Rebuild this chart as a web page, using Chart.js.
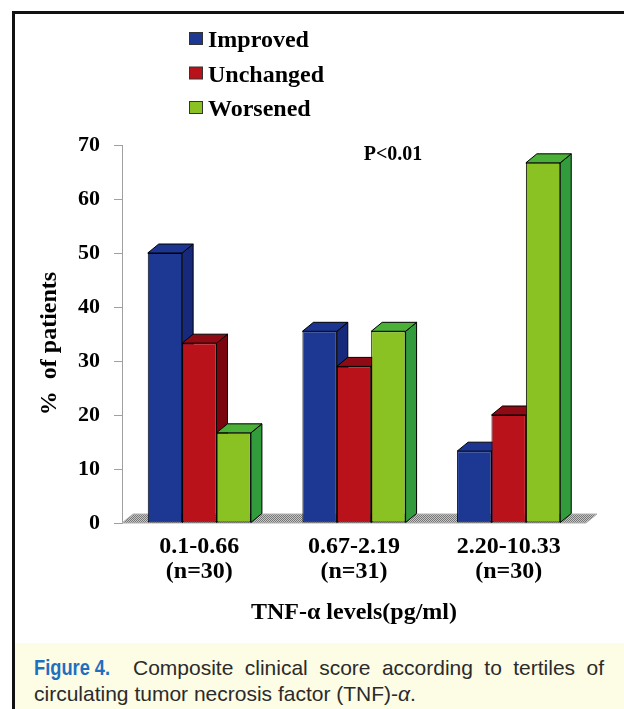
<!DOCTYPE html>
<html>
<head>
<meta charset="utf-8">
<script src="https://cdn.jsdelivr.net/npm/chart.js@4.4.1/dist/chart.umd.min.js"></script>
<style>
  html, body { margin: 0; padding: 0; background: #fff; }
  #wrap { position: relative; width: 624px; height: 709px; overflow: hidden; background: #fff; }
  #c { position: absolute; left: 0; top: 0; }
  #frame { position: absolute; left: 12px; top: 11px; width: 630px; height: 720px;
           border-left: 3px solid #111; border-top: 3px solid #111; pointer-events: none; }
  #cap { position: absolute; left: 15px; top: 643px; width: 609px; height: 66px; background: #fdfce5;
         font-family: "Liberation Sans", Arial, sans-serif; color: #2b2b2b; font-size: 21px; }
  .l1 { position: absolute; left: 19px; top: 12px; width: 570px; height: 26px; display: flex; line-height: 26px; white-space: nowrap; }
  .fig { width: 99px; flex: none; color: #1e6fbf; font-weight: bold; font-size: 22px; }
  .fig span { display: inline-block; transform: scaleX(0.83); transform-origin: 0 50%; }
  .t1 { flex: 1; text-align: justify; text-align-last: justify; }
  .l2 { position: absolute; left: 19px; top: 38px; line-height: 26px; white-space: nowrap; }
</style>
</head>
<body>
<div id="wrap">
  <canvas id="c" width="624" height="643"></canvas>
  <div id="cap">
    <div class="l1"><div class="fig"><span>Figure 4.</span></div><div class="t1">Composite clinical score according to tertiles of</div></div>
    <div class="l2">circulating tumor necrosis factor (TNF)-<i>α</i>.</div>
  </div>
  <div id="frame"></div>
</div>
<script>
// Tertiles of circulating TNF-α and the share of patients in each outcome group
const categories = [['0.1-0.66', '(n=30)'], ['0.67-2.19', '(n=31)'], ['2.20-10.33', '(n=30)']];
const seriesNames = ['Improved', 'Unchanged', 'Worsened'];
const improved = [50, 35.5, 13.3];
const unchanged = [33.3, 29, 20];
const worsened = [16.7, 35.5, 66.7];
const yMin = 0, yMax = 70, yStep = 10;
const axisTitleY = '%  of patients';
const axisTitleX = 'TNF-α levels(pg/ml)';
const pValueNote = 'P<0.01';

// face colours per series: front, top, side
const faces = [
  { front: '#1c3892', top: '#1b3590', side: '#16297a' },
  { front: '#b9121b', top: '#8e0a14', side: '#7b050f' },
  { front: '#8ac224', top: '#4bb037', side: '#329b3c' }
];
const DX = 11, DY = -9;               // oblique depth offset of the boxes
const SERIF = '"Liberation Serif", "Times New Roman", serif';

function floorPattern(ctx) {
  const p = document.createElement('canvas');
  p.width = 2; p.height = 2;
  const g = p.getContext('2d');
  g.fillStyle = '#c6c6c6'; g.fillRect(0, 0, 2, 2);
  g.fillStyle = '#767676'; g.fillRect(0, 0, 1, 1); g.fillRect(1, 1, 1, 1);
  return ctx.createPattern(p, 'repeat');
}

function poly(ctx, pts, fill) {
  ctx.beginPath();
  ctx.moveTo(pts[0][0], pts[0][1]);
  for (let k = 1; k < pts.length; k++) ctx.lineTo(pts[k][0], pts[k][1]);
  ctx.closePath();
  ctx.fillStyle = fill;
  ctx.fill();
  ctx.stroke();
}

const boxes3d = {
  id: 'boxes3d',
  beforeDatasetsDraw(chart) {
    const ctx = chart.ctx, area = chart.chartArea;
    const base = chart.scales.y.getPixelForValue(0);
    ctx.save();
    // hatched floor
    ctx.strokeStyle = '#b0b0b0';
    ctx.lineWidth = 1;
    poly(ctx, [[area.left, base], [area.right, base], [area.right + DX, base + DY], [area.left + DX, base + DY]], floorPattern(ctx));
    // sides and tops of each box, left to right
    ctx.strokeStyle = '#000';
    ctx.lineWidth = 1;
    const n = chart.data.labels.length;
    for (let j = 0; j < n; j++) {
      chart.data.datasets.forEach((ds, i) => {
        const el = chart.getDatasetMeta(i).data[j];
        const x0 = el.x - el.width / 2, x1 = el.x + el.width / 2;
        const yT = el.y, yB = el.base;
        poly(ctx, [[x1, yT], [x1 + DX, yT + DY], [x1 + DX, yB + DY], [x1, yB]], faces[i].side);
        poly(ctx, [[x0, yT], [x1, yT], [x1 + DX, yT + DY], [x0 + DX, yT + DY]], faces[i].top);
      });
    }
    ctx.restore();
  },
  afterDraw(chart) {
    const ctx = chart.ctx;
    ctx.save();
    ctx.fillStyle = '#000';
    // y axis title
    ctx.font = 'bold 24px ' + SERIF;
    ctx.textAlign = 'center';
    ctx.textBaseline = 'middle';
    ctx.translate(50, 343.5);
    ctx.rotate(-Math.PI / 2);
    ctx.fillText(axisTitleY, 0, 0);
    ctx.setTransform(1, 0, 0, 1, 0, 0);
    // significance note
    ctx.font = 'bold 20px ' + SERIF;
    ctx.textBaseline = 'alphabetic';
    ctx.fillText(pValueNote, 393, 160);
    // legend
    const baselines = [47, 81.5, 116];
    ctx.font = 'bold 24px ' + SERIF;
    ctx.textAlign = 'left';
    chart.data.datasets.forEach((ds, i) => {
      const b = baselines[i];
      ctx.fillStyle = ds.backgroundColor;
      ctx.fillRect(189.5, b - 14.5, 13, 12);
      ctx.strokeStyle = '#333';
      ctx.lineWidth = 1;
      ctx.strokeRect(189.5, b - 14.5, 13, 12);
      ctx.fillStyle = '#000';
      ctx.fillText(ds.label, 208, b);
    });
    ctx.restore();
  }
};

const seriesValues = [improved, unchanged, worsened];

new Chart(document.getElementById('c'), {
  type: 'bar',
  data: {
    labels: categories,
    datasets: seriesNames.map((name, i) => ({
      label: name,
      data: seriesValues[i],
      backgroundColor: faces[i].front,
      borderColor: '#000',
      borderWidth: 1,
      borderSkipped: false,
      categoryPercentage: 0.667,
      barPercentage: 1.0
    }))
  },
  options: {
    responsive: false,
    animation: false,
    layout: { padding: { top: 145, right: 38, left: 0, bottom: 0 } },
    plugins: { legend: { display: false }, tooltip: { enabled: false } },
    scales: {
      x: {
        afterFit(s) { s.height = 120; },
        grid: { display: false, drawTicks: false },
        border: { display: false },
        ticks: {
          color: '#000',
          padding: 11,
          maxRotation: 0,
          autoSkip: false,
          font: { family: SERIF, size: 24, weight: 'bold', lineHeight: 1.04 }
        },
        title: {
          display: true,
          text: axisTitleX,
          color: '#000',
          padding: { top: 0, bottom: 15.6 },
          font: { family: SERIF, size: 24, weight: 'bold' }
        }
      },
      y: {
        min: yMin,
        max: yMax,
        afterFit(s) { s.width = 122; },
        grid: { display: true, drawOnChartArea: false, drawTicks: true, tickLength: 8, color: '#a0a0a0' },
        border: { display: true, color: '#a0a0a0' },
        ticks: {
          stepSize: yStep,
          color: '#000',
          padding: 14,
          font: { family: SERIF, size: 22, weight: 'bold' }
        }
      }
    }
  },
  plugins: [boxes3d]
});
</script>
</body>
</html>
